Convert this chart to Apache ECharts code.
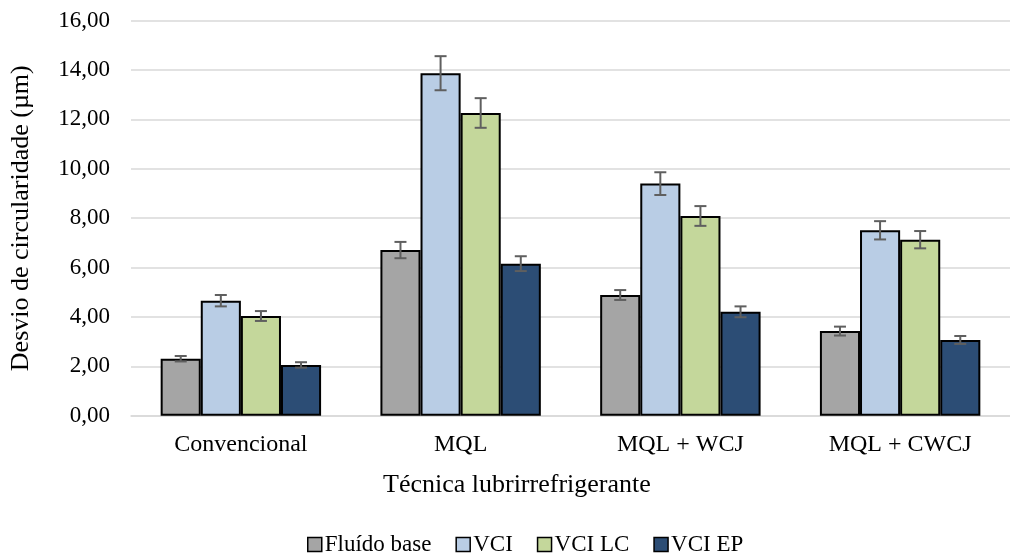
<!DOCTYPE html>
<html>
<head>
<meta charset="utf-8">
<script src="https://cdn.jsdelivr.net/npm/echarts@6/dist/echarts.min.js"></script>
<style>html,body{margin:0;padding:0;background:#fff}#c{width:1010px;height:556px}</style>
</head>
<body>
<div id="c"></div>
<script>
var categories = ['Convencional', 'MQL', 'MQL + WCJ', 'MQL + CWCJ'];
var seriesNames = ['Fluído base', 'VCI', 'VCI LC', 'VCI EP'];
var fluidoBase = [2.31, 6.71, 4.89, 3.43];
var vci = [4.66, 13.87, 9.40, 7.51];
var vciLC = [4.04, 12.26, 8.09, 7.13];
var vciEP = [2.06, 6.16, 4.21, 3.07];
var errFluidoBase = [0.11, 0.33, 0.20, 0.18];
var errVci = [0.23, 0.69, 0.46, 0.37];
var errVciLC = [0.20, 0.60, 0.40, 0.35];
var errVciEP = [0.11, 0.30, 0.22, 0.16];

var values = [fluidoBase, vci, vciLC, vciEP];
var errs = [errFluidoBase, errVci, errVciLC, errVciEP];
var colors = ['#A5A5A5', '#B9CDE5', '#C4D79B', '#2C4D75'];
var catGap = 0.27;
var font = 'Liberation Serif, Times New Roman, serif';

var chart = echarts.init(document.getElementById('c'));
var series = [];
for (var i = 0; i < 4; i++) {
  series.push({
    name: seriesNames[i], type: 'bar', data: values[i],
    barGap: '0%', barCategoryGap: (catGap * 100) + '%',
    itemStyle: { color: colors[i], borderColor: '#000', borderWidth: 2 },
    z: 2
  });
}
for (var j = 0; j < 4; j++) {
  (function (idx) {
    var d = values[idx].map(function (v, k) { return [k, v - errs[idx][k], v + errs[idx][k]]; });
    series.push({
      type: 'custom', name: seriesNames[idx] + ' err', z: 5, silent: true,
      data: d,
      renderItem: function (params, api) {
        var k = api.value(0);
        var lo = api.coord([k, api.value(1)]);
        var hi = api.coord([k, api.value(2)]);
        var bandW = api.size([1, 0])[0];
        var bw = bandW * (1 - catGap) / 4;
        var x = lo[0] + (idx - 1.5) * bw;
        var cap = 6;
        var st = { stroke: '#5F5F5F', lineWidth: 2 };
        return { type: 'group', children: [
          { type: 'line', shape: { x1: x, y1: lo[1], x2: x, y2: hi[1] }, style: st },
          { type: 'line', shape: { x1: x - cap, y1: lo[1], x2: x + cap, y2: lo[1] }, style: st },
          { type: 'line', shape: { x1: x - cap, y1: hi[1], x2: x + cap, y2: hi[1] }, style: st }
        ]};
      }
    });
  })(j);
}

chart.setOption({
  animation: false,
  textStyle: { fontFamily: font },
  grid: { left: 129, top: 20.6, width: 888, height: 395.2 },
  legend: {
    data: seriesNames, top: 528, left: 302, itemWidth: 14, itemHeight: 14, itemGap: 24,
    icon: 'rect',
    textStyle: { fontFamily: font, fontSize: 23, color: '#000', padding: [0, 0, 0, -2] },
    itemStyle: { borderColor: '#000', borderWidth: 1.5 }
  },
  xAxis: {
    type: 'category', data: categories,
    axisLine: { lineStyle: { color: '#D9D9D9', width: 1.5 } },
    axisTick: { show: false },
    axisLabel: { color: '#000', fontSize: 24, fontFamily: font, margin: 17 }
  },
  yAxis: {
    type: 'value', min: 0, max: 16, interval: 2,
    name: 'Desvio de circularidade (µm)', nameLocation: 'middle', nameGap: 97,
    nameTextStyle: { color: '#000', fontSize: 26, fontFamily: font },
    axisLine: { show: false }, axisTick: { show: false },
    splitLine: { lineStyle: { color: '#D9D9D9', width: 1.5 } },
    axisLabel: { color: '#000', fontSize: 23, fontFamily: font, margin: 21,
      formatter: function (v) { return v.toFixed(2).replace('.', ','); } }
  },
  graphic: [{
    type: 'text', left: 383, top: 472,
    style: { text: 'Técnica lubrirrefrigerante', font: '26px ' + font, fill: '#000' }
  }],
  series: series
});
</script>
</body>
</html>
